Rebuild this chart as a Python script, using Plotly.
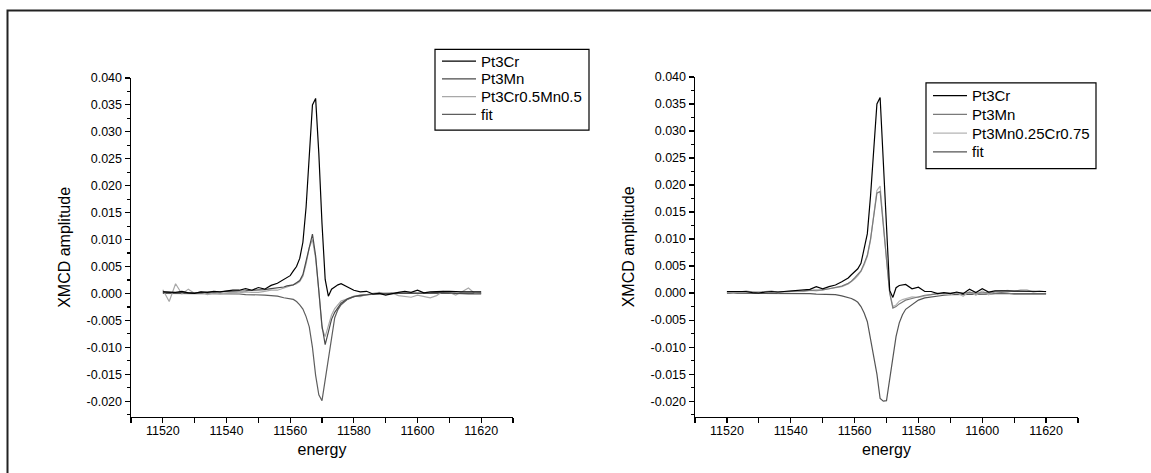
import plotly.graph_objects as go

# ---------------- data ----------------
energy = ([11520 + 2 * i for i in range(20)] +
          [11559 + i for i in range(18)] +
          [11578 + 2 * i for i in range(22)])

# left panel
L_pt3cr = [0.0003, 0.0003, 0.0002, 0.0004, 0.0001, 0.0000, 0.0003, 0.0002, 0.0004, 0.0003,
           0.0005, 0.0006, 0.0006, 0.0009, 0.0006, 0.0011, 0.0008, 0.0015, 0.0019, 0.0026,
           0.0029, 0.0033, 0.0042, 0.0050, 0.0065, 0.0095, 0.0160, 0.0250, 0.0350, 0.0362,
           0.0260, 0.0130, 0.0026, -0.0005, 0.0008, 0.0012, 0.0016, 0.0018,
           0.0012, 0.0006, 0.0003, 0.0004, -0.0001, 0.0000, -0.0003, 0.0000, 0.0002, 0.0004,
           0.0002, 0.0006, 0.0001, 0.0003, 0.0004, 0.0004, 0.0004, 0.0003, 0.0003, 0.0003,
           0.0003, 0.0003]
L_pt3mn = [0.0003, 0.0002, 0.0001, 0.0002, 0.0001, 0.0001, 0.0002, 0.0002, 0.0003, 0.0003,
           0.0004, 0.0004, 0.0005, 0.0005, 0.0006, 0.0006, 0.0007, 0.0009, 0.0010, 0.0012,
           0.0014, 0.0015, 0.0016, 0.0020, 0.0024, 0.0035, 0.0060, 0.0090, 0.0110, 0.0070,
           0.0010, -0.0060, -0.0095, -0.0072, -0.0048, -0.0035, -0.0026, -0.0018,
           -0.0010, -0.0006, -0.0004, -0.0002, -0.0001, 0.0000, 0.0000, 0.0000, 0.0001, 0.0001,
           0.0001, 0.0001, 0.0001, 0.0001, 0.0002, 0.0002, 0.0001, 0.0000, -0.0001, -0.0001,
           -0.0001, -0.0001]
L_mix = [0.0007, -0.0015, 0.0018, -0.0001, 0.0008, 0.0000, 0.0003, -0.0002, 0.0001, -0.0001,
         0.0001, 0.0002, 0.0001, 0.0003, 0.0002, 0.0002, 0.0004, 0.0006, 0.0006, 0.0010,
         0.0011, 0.0013, 0.0015, 0.0018, 0.0022, 0.0032, 0.0055, 0.0085, 0.0100, 0.0065,
         0.0005, -0.0065, -0.0080, -0.0060, -0.0040, -0.0028, -0.0020, -0.0014,
         -0.0010, -0.0005, -0.0006, -0.0002, 0.0000, 0.0002, -0.0002, 0.0001, -0.0004, -0.0005,
         -0.0007, -0.0003, -0.0006, -0.0008, -0.0004, 0.0004, 0.0002, -0.0003, 0.0003, 0.0010,
         0.0000, 0.0001]
L_fit = [0.0000, 0.0000, 0.0000, 0.0000, 0.0000, 0.0000, 0.0000, -0.0001, -0.0001, -0.0001,
         -0.0001, -0.0001, -0.0001, -0.0002, -0.0002, -0.0002, -0.0003, -0.0004, -0.0005, -0.0008,
         -0.0009, -0.0010, -0.0011, -0.0015, -0.0021, -0.0029, -0.0043, -0.0062, -0.0100, -0.0152,
         -0.0188, -0.0199, -0.0160, -0.0118, -0.0075, -0.0045, -0.0030, -0.0021,
         -0.0011, -0.0006, -0.0003, -0.0002, -0.0001, -0.0001, -0.0001, 0.0000, 0.0000, 0.0000,
         0.0000, 0.0000, 0.0000, 0.0000, 0.0000, 0.0000, 0.0000, 0.0000, 0.0000, 0.0000,
         0.0000, 0.0000]

# right panel
R_pt3cr = [0.0003, 0.0003, 0.0002, 0.0003, 0.0001, 0.0000, 0.0002, 0.0003, 0.0002, 0.0003,
           0.0004, 0.0005, 0.0006, 0.0007, 0.0012, 0.0008, 0.0012, 0.0015, 0.0021, 0.0028,
           0.0034, 0.0039, 0.0045, 0.0055, 0.0080, 0.0110, 0.0180, 0.0270, 0.0350, 0.0362,
           0.0240, 0.0120, 0.0005, -0.0008, 0.0010, 0.0014, 0.0015, 0.0016,
           0.0008, 0.0011, 0.0003, 0.0003, -0.0001, 0.0001, -0.0001, 0.0002, -0.0001, 0.0007,
           0.0001, 0.0008, 0.0002, 0.0004, 0.0004, 0.0004, 0.0004, 0.0004, 0.0004, 0.0003,
           0.0003, 0.0003]
R_pt3mn = [0.0002, 0.0002, 0.0002, 0.0002, 0.0001, 0.0001, 0.0002, 0.0002, 0.0002, 0.0003,
           0.0003, 0.0004, 0.0004, 0.0005, 0.0005, 0.0006, 0.0008, 0.0010, 0.0013, 0.0018,
           0.0022, 0.0028, 0.0034, 0.0041, 0.0055, 0.0070, 0.0100, 0.0140, 0.0185, 0.0188,
           0.0120, 0.0060, 0.0000, -0.0028, -0.0025, -0.0020, -0.0016, -0.0013,
           -0.0010, -0.0007, -0.0004, -0.0003, -0.0001, 0.0000, 0.0000, 0.0001, 0.0000, 0.0001,
           0.0000, 0.0001, 0.0001, 0.0000, 0.0001, 0.0000, -0.0002, -0.0002, -0.0002, -0.0002,
           -0.0002, -0.0002]
R_mix = [0.0002, 0.0000, 0.0002, 0.0004, 0.0002, 0.0000, 0.0003, 0.0004, 0.0001, 0.0002,
         0.0003, 0.0004, 0.0003, 0.0005, 0.0004, 0.0006, 0.0007, 0.0009, 0.0012, 0.0017,
         0.0021, 0.0026, 0.0032, 0.0040, 0.0052, 0.0068, 0.0098, 0.0142, 0.0190, 0.0198,
         0.0125, 0.0062, 0.0002, -0.0025, -0.0022, -0.0015, -0.0012, -0.0010,
         -0.0007, -0.0008, -0.0005, -0.0002, 0.0000, -0.0002, -0.0003, 0.0001, -0.0006, 0.0003,
         -0.0004, 0.0004, -0.0003, 0.0003, 0.0004, 0.0005, 0.0003, 0.0006, 0.0006, 0.0002,
         0.0004, 0.0002]
R_fit = [0.0000, 0.0000, 0.0000, 0.0000, 0.0000, 0.0000, 0.0000, 0.0000, 0.0000, 0.0000,
         -0.0001, -0.0001, -0.0001, -0.0001, -0.0002, -0.0002, -0.0002, -0.0003, -0.0005, -0.0008,
         -0.0010, -0.0013, -0.0017, -0.0025, -0.0037, -0.0053, -0.0085, -0.0115, -0.0150, -0.0195,
         -0.0200, -0.0199, -0.0160, -0.0114, -0.0080, -0.0055, -0.0040, -0.0030,
         -0.0021, -0.0013, -0.0009, -0.0007, -0.0005, -0.0004, -0.0003, -0.0003, -0.0002, -0.0002,
         -0.0002, -0.0002, -0.0002, -0.0001, -0.0001, -0.0001, -0.0001, -0.0001, -0.0001, -0.0001,
         -0.0001, -0.0001]

left_names = ["Pt3Cr", "Pt3Mn", "Pt3Cr0.5Mn0.5", "fit"]
right_names = ["Pt3Cr", "Pt3Mn", "Pt3Mn0.25Cr0.75", "fit"]
left_colors = ["#000000", "#4a4a4a", "#a8a8a8", "#5e5e5e"]
right_colors = ["#000000", "#7a7a7a", "#b4b4b4", "#555555"]

x_tickvals = [11520, 11540, 11560, 11580, 11600, 11620]
y_tickvals = [-0.020, -0.015, -0.010, -0.005, 0.000, 0.005, 0.010, 0.015,
              0.020, 0.025, 0.030, 0.035, 0.040]
x_title = "energy"
y_title = "XMCD amplitude"

# ---------------- figure ----------------
FONT = "Liberation Sans, Arial, sans-serif"
W, H = 1151, 473


def px(xp):
    return xp / W


def py(yp):
    return 1 - yp / H


fig = go.Figure()
left_series = [L_pt3cr, L_pt3mn, L_mix, L_fit]
right_series = [R_pt3cr, R_pt3mn, R_mix, R_fit]
order = [3, 2, 1, 0]  # black drawn last (on top)
for i in order:
    fig.add_trace(go.Scatter(x=energy, y=left_series[i], mode="lines", name=left_names[i],
                             line=dict(color=left_colors[i], width=1.2),
                             xaxis="x", yaxis="y", showlegend=False))
for i in order:
    fig.add_trace(go.Scatter(x=energy, y=right_series[i], mode="lines", name=right_names[i],
                             line=dict(color=right_colors[i], width=1.2),
                             xaxis="x2", yaxis="y2", showlegend=False))

tick_font = dict(family=FONT, size=12.5, color="#000")
title_font = dict(family=FONT, size=16, color="#000")

common_x = dict(
    range=[11510, 11630], tickvals=x_tickvals, ticktext=[str(v) for v in x_tickvals],
    ticks="outside", ticklen=5, tickwidth=1.2, tickcolor="#000", ticklabelstandoff=-3,
    minor=dict(dtick=10, tick0=11510, ticks="outside", ticklen=5, tickwidth=1.2, tickcolor="#000"),
    showline=True, linecolor="#000", linewidth=1.5, showgrid=False, zeroline=False,
    tickfont=tick_font, title=dict(text=x_title, font=title_font, standoff=6),
)
common_y = dict(
    tickvals=y_tickvals, ticktext=[f"{v:.3f}" for v in y_tickvals],
    ticks="outside", ticklen=5, tickwidth=1.2, tickcolor="#000",
    minor=dict(dtick=0.0025, tick0=0, ticks="outside", ticklen=3, tickwidth=1.2, tickcolor="#000"),
    showline=True, linecolor="#000", linewidth=1.5, showgrid=False, zeroline=False,
    tickfont=tick_font, title=dict(text=y_title, font=title_font, standoff=12),
)

shapes = [dict(type="rect", xref="paper", yref="paper",
               x0=px(7.5), x1=1.05, y0=-0.05, y1=py(3.5),
               line=dict(color="#222", width=2), fillcolor="rgba(0,0,0,0)", layer="below")]
annotations = []

# hand-drawn legends (box, sample line, text), placed in pixel coordinates
legend_specs = [
    dict(names=left_names, colors=left_colors, x0=435, x1=589, y0=43, y1=125,
         rows=[55, 73, 91, 109]),
    dict(names=right_names, colors=right_colors, x0=926, x1=1096, y0=77, y1=164,
         rows=[90, 109, 128, 147]),
]
for spec in legend_specs:
    shapes.append(dict(type="rect", xref="paper", yref="paper",
                       x0=px(spec["x0"]), x1=px(spec["x1"]),
                       y0=py(spec["y1"]), y1=py(spec["y0"]),
                       line=dict(color="#000", width=1.2), fillcolor="#fff", layer="above"))
    for name, color, ry in zip(spec["names"], spec["colors"], spec["rows"]):
        shapes.append(dict(type="line", xref="paper", yref="paper",
                           x0=px(spec["x0"] + 7), x1=px(spec["x0"] + 41),
                           y0=py(ry), y1=py(ry),
                           line=dict(color=color, width=1.3), layer="above"))
        annotations.append(dict(text=name, xref="paper", yref="paper",
                                x=px(spec["x0"] + 44), y=py(ry),
                                xanchor="left", yanchor="middle", showarrow=False,
                                font=dict(family=FONT, size=15, color="#000")))

fig.update_layout(
    width=W, height=H, autosize=False,
    margin=dict(l=0, r=0, t=0, b=0),
    paper_bgcolor="#fff", plot_bgcolor="rgba(0,0,0,0)",
    showlegend=False,
    xaxis=dict(domain=[px(131), px(513)], anchor="y", **common_x),
    yaxis=dict(domain=[py(416), py(72)], anchor="x", range=[-0.02290, 0.040], **common_y),
    xaxis2=dict(domain=[px(695), px(1078)], anchor="y2", **common_x),
    yaxis2=dict(domain=[py(416), py(71)], anchor="x2", range=[-0.02290, 0.040], **common_y),
    shapes=shapes,
    annotations=annotations,
)

fig.write_html("out.html", include_plotlyjs=True,
               config={"displayModeBar": False, "staticPlot": True},
               post_script="document.body.style.margin='0px';document.body.style.overflow='hidden';")
